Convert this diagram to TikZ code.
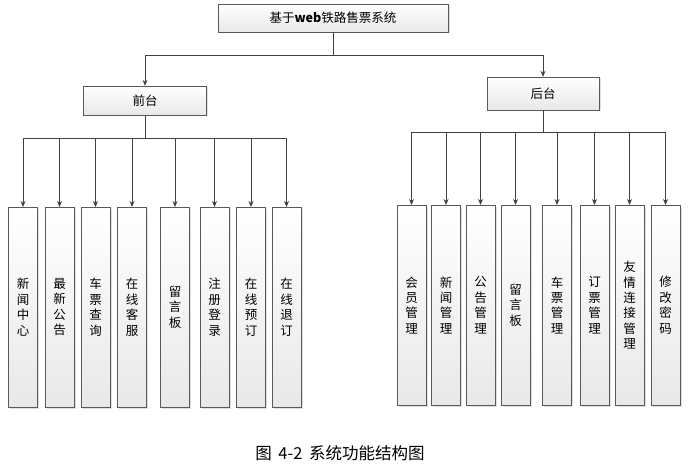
\documentclass[tikz,border=0pt]{standalone}
\usepackage{fontspec}
\setmainfont{Noto Sans CJK SC}
\usetikzlibrary{arrows.meta, shadows}

\begin{document}
\begin{tikzpicture}[x=1pt, y=-1pt,
    box/.style={draw=black!65, top color=white, bottom color=gray!18,
                drop shadow={opacity=.25, shadow xshift=1.5pt, shadow yshift=-1.5pt},
                font=\fontsize{12.5}{14}\selectfont, inner sep=0pt},
    leaf/.style={box, minimum width=29pt, minimum height=200pt, anchor=north,
                 align=center, font=\fontsize{12.5}{15.4}\selectfont},
    arr/.style={-{Stealth[length=6pt, width=5pt]}, black!75, line width=0.8pt},
    bus/.style={black!75, line width=0.8pt}
  ]
    \useasboundingbox (0,0) rectangle (692,470);

    \node[box, minimum width=230pt, minimum height=28pt] (sys) at (333,18) {基于\textbf{web}铁路售票系统};
    \node[box, minimum width=123pt, minimum height=29pt] (front) at (145,100.5) {前台};
    \node[box, minimum width=112pt, minimum height=33pt] (back) at (543,93.5) {后台};

    % 前台 modules
    \node[leaf] (l1) at (23,207)   {新\\闻\\中\\心};
    \node[leaf] (l2) at (59.5,207) {最\\新\\公\\告};
    \node[leaf] (l3) at (95.5,207) {车\\票\\查\\询};
    \node[leaf] (l4) at (132,207)  {在\\线\\客\\服};
    \node[leaf] (l5) at (175,207)  {留\\言\\板};
    \node[leaf] (l6) at (214.5,207) {注\\册\\登\\录};
    \node[leaf] (l7) at (251,207)  {在\\线\\预\\订};
    \node[leaf] (l8) at (286.5,207) {在\\线\\退\\订};

    % 后台 modules
    \node[leaf] (r1) at (411.5,205) {会\\员\\管\\理};
    \node[leaf] (r2) at (446,205)   {新\\闻\\管\\理};
    \node[leaf] (r3) at (480.5,205) {公\\告\\管\\理};
    \node[leaf] (r4) at (515.5,205) {留\\言\\板};
    \node[leaf] (r5) at (557,205)   {车\\票\\管\\理};
    \node[leaf] (r6) at (594.5,205) {订\\票\\管\\理};
    \node[leaf] (r7) at (629.5,205) {友\\情\\连\\接\\管\\理};
    \node[leaf] (r8) at (665.5,205) {修\\改\\密\\码};

    \node[font=\fontsize{16.5}{18}\selectfont] (caption) at (340,453)
      {图\hspace{0.4em}4-2\hspace{0.4em}系统功能结构图};

    \coordinate (busTop) at (333,55);
    \coordinate (busL) at (145,138);
    \coordinate (busR) at (543,132);

    \draw[bus] (sys.south) -- (busTop);
    \draw[arr] (busTop) -| (front.north);
    \draw[arr] (busTop) -| (back.north);

    \draw[bus] (front.south) -- (busL);
    \draw[arr] (busL) -| (l1.north);
    \draw[arr] (busL) -| (l2.north);
    \draw[arr] (busL) -| (l3.north);
    \draw[arr] (busL) -| (l4.north);
    \draw[arr] (busL) -| (l5.north);
    \draw[arr] (busL) -| (l6.north);
    \draw[arr] (busL) -| (l7.north);
    \draw[arr] (busL) -| (l8.north);

    \draw[bus] (back.south) -- (busR);
    \draw[arr] (busR) -| (r1.north);
    \draw[arr] (busR) -| (r2.north);
    \draw[arr] (busR) -| (r3.north);
    \draw[arr] (busR) -| (r4.north);
    \draw[arr] (busR) -| (r5.north);
    \draw[arr] (busR) -| (r6.north);
    \draw[arr] (busR) -| (r7.north);
    \draw[arr] (busR) -| (r8.north);
  \end{tikzpicture}
\end{document}
